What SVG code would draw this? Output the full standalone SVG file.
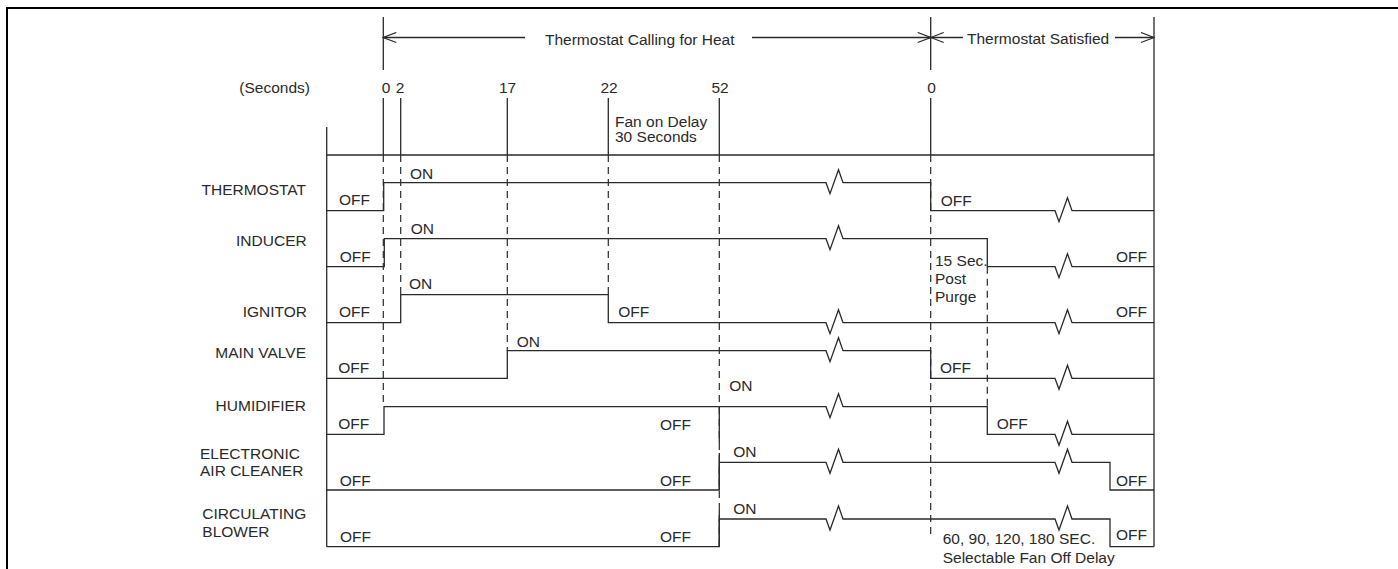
<svg xmlns="http://www.w3.org/2000/svg" width="1398" height="569" viewBox="0 0 1398 569">
<style>
text{font-family:"Liberation Sans",Arial,sans-serif;font-size:15.5px;fill:#2a2a2a}
.e{text-anchor:end}
.m{text-anchor:middle}
.ln{fill:none;stroke:#2a2a2a;stroke-width:1.3}
.d{fill:none;stroke:#2a2a2a;stroke-width:1.2;stroke-dasharray:7 5}
.fr{fill:none;stroke:#000;stroke-width:2}
</style>
<defs>
<marker id="ah" viewBox="0 0 15 12" refX="14" refY="6" markerWidth="15" markerHeight="12" markerUnits="userSpaceOnUse" orient="auto-start-reverse">
<path d="M1,1 L14,6 L1,11" fill="none" stroke="#2a2a2a" stroke-width="1.2"/>
</marker>
</defs>
<path class="fr" d="M7,569 V8 H1398"/>
<g id="header">
<line class="ln" x1="383.3" y1="37.5" x2="525" y2="37.5" marker-start="url(#ah)"/>
<line class="ln" x1="752" y1="37.5" x2="930.7" y2="37.5" marker-end="url(#ah)"/>
<line class="ln" x1="930.7" y1="37.5" x2="963" y2="37.5" marker-start="url(#ah)"/>
<line class="ln" x1="1115" y1="37.5" x2="1154" y2="37.5" marker-end="url(#ah)"/>
<text x="545" y="44.5">Thermostat Calling for Heat</text>
<text x="967" y="43.5">Thermostat Satisfied</text>
<text class="e" x="310" y="92.5">(Seconds)</text>
<text class="m" x="386" y="92.5">0</text>
<text class="m" x="400" y="92.5">2</text>
<text class="m" x="507.5" y="92.5">17</text>
<text class="m" x="609" y="92.5">22</text>
<text class="m" x="720" y="92.5">52</text>
<text class="m" x="931.5" y="92.5">0</text>
<text x="615" y="126.5">Fan on Delay</text>
<text x="615" y="142">30 Seconds</text>
</g>
<g id="connectors">
<path class="ln" d="M383.3,17 V70 M383.3,98 V155 M400.7,98 V155 M507.3,98 V155 M608.3,98 V155 M719.3,98 V155 M930.7,17 V70 M930.7,98 V155"/>
<path class="ln" d="M326.7,127 V546.7 M1154,17 V546.7 M326.7,155 H1154"/>
<path class="d" d="M383.3,155 V406.7 M400.7,155 V294.7 M507.3,155 V350.7 M608.3,155 V294.7 M719.3,155 V546.7 M930.7,155 V537 M987.3,266.7 V406.7"/>
<path class="ln" d="M719.3,406.7 V443 M719.3,453 V490 M719.3,510 V546.7"/>
</g>
<g id="thermostat">
<text class="e" x="306" y="195">THERMOSTAT</text>
<path class="ln" d="M326.7,210.7 H383.7 V182.7 H826 l4,11 l8.5,-24 l4.5,13 H930.7 V210.7 H1055 l4,11 l8.5,-24 l4.5,13 H1154"/>
<text x="339" y="205">OFF</text>
<text x="410" y="179">ON</text>
<text x="940.7" y="206">OFF</text>
</g>
<g id="inducer">
<text class="e" x="306.7" y="246">INDUCER</text>
<path class="ln" d="M326.7,266.7 H384.3 V238.7 H826 l4,11 l8.5,-24 l4.5,13 H987.3 V266.7 H1055 l4,11 l8.5,-24 l4.5,13 H1154"/>
<text x="339.7" y="261.7">OFF</text>
<text x="410.7" y="234">ON</text>
<text x="1116" y="261.7">OFF</text>
<text x="935" y="266">15 Sec.</text>
<text x="935" y="283.5">Post</text>
<text x="935" y="301.5">Purge</text>
</g>
<g id="ignitor">
<text class="e" x="307" y="316.7">IGNITOR</text>
<path class="ln" d="M326.7,322.7 H400.7 V294.7 H608.3 V322.7 H826 l4,11 l8.5,-24 l4.5,13 H1055 l4,11 l8.5,-24 l4.5,13 H1154"/>
<text x="339" y="317.3">OFF</text>
<text x="409" y="289.3">ON</text>
<text x="618.3" y="317.3">OFF</text>
<text x="1116" y="317.3">OFF</text>
</g>
<g id="main-valve">
<text class="e" x="306" y="358.3">MAIN VALVE</text>
<path class="ln" d="M326.7,378.3 H507.3 V350.7 H826 l4,11 l8.5,-24 l4.5,13 H930.7 V378.3 H1055 l4,11 l8.5,-24 l4.5,13 H1154"/>
<text x="338.3" y="373.3">OFF</text>
<text x="516.7" y="346.5">ON</text>
<text x="940" y="373.3">OFF</text>
</g>
<g id="humidifier">
<text class="e" x="306" y="410.7">HUMIDIFIER</text>
<path class="ln" d="M326.7,434.3 H384 V406.7 H826 l4,11 l8.5,-24 l4.5,13 H987.3 V434.3 H1055 l4,11 l8.5,-24 l4.5,13 H1154"/>
<text x="338.3" y="429.3">OFF</text>
<text x="729.3" y="390.7">ON</text>
<text x="660" y="430">OFF</text>
<text x="996.7" y="429.3">OFF</text>
</g>
<g id="electronic-air-cleaner">
<text x="200" y="459">ELECTRONIC</text>
<text x="200" y="475.7">AIR CLEANER</text>
<path class="ln" d="M326.7,490 H719.3 V462.3 H826 l4,11 l8.5,-24 l4.5,13 H1055 l4,11 l8.5,-24 l4.5,13 H1110 V490 H1154"/>
<text x="339.7" y="485.7">OFF</text>
<text x="660" y="485.7">OFF</text>
<text x="733.3" y="457.3">ON</text>
<text x="1116" y="485.7">OFF</text>
</g>
<g id="circulating-blower">
<text x="202.3" y="519">CIRCULATING</text>
<text x="202.3" y="536.7">BLOWER</text>
<path class="ln" d="M326.7,546.7 H719.3 V519 H826 l4,11 l8.5,-24 l4.5,13 H1055 l4,11 l8.5,-24 l4.5,13 H1110 V546.7 H1154"/>
<text x="340" y="542.3">OFF</text>
<text x="660" y="542.3">OFF</text>
<text x="733.3" y="514">ON</text>
<text x="1116" y="540">OFF</text>
<text x="942.7" y="544">60, 90, 120, 180 SEC.</text>
<text x="942.7" y="562.7">Selectable Fan Off Delay</text>
</g>
</svg>
